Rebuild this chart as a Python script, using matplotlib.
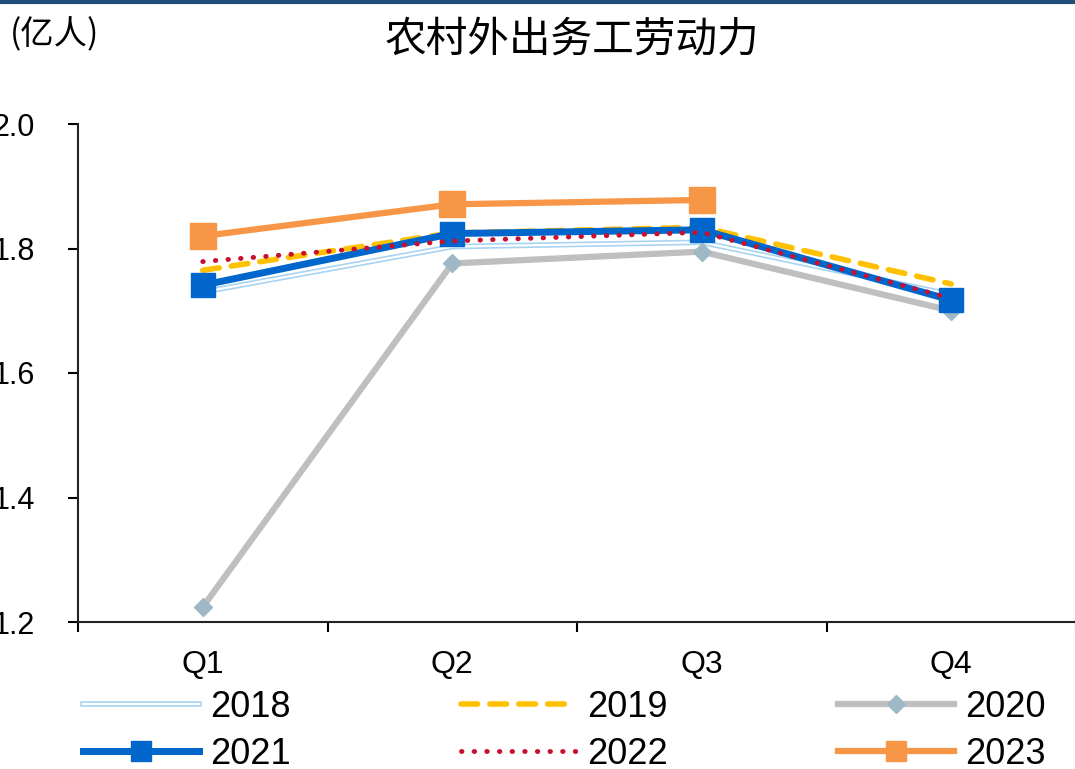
import numpy as np
import matplotlib
matplotlib.use("Agg")
import matplotlib.pyplot as plt
import matplotlib.patheffects as pe
from matplotlib.lines import Line2D

# ── Data (亿人) ─────────────────────────────────────────────
quarters = ["Q1", "Q2", "Q3", "Q4"]
y2018 = [1.730, 1.803, 1.810, 1.726]
y2019 = [1.765, 1.825, 1.834, 1.743]
y2020 = [1.224, 1.776, 1.795, 1.700]
y2021 = [1.741, 1.824, 1.830, 1.717]
y2022 = [1.779, 1.812, 1.826, 1.720]
y2023 = [1.820, 1.871, 1.878]

y_ticks = [1.2, 1.4, 1.6, 1.8, 2.0]

plt.rcParams["font.family"] = ["Liberation Sans", "Noto Sans CJK SC", "DejaVu Sans"]

fig = plt.figure(figsize=(10.75, 7.69), dpi=100)
ax = fig.add_axes([78 / 1075, 1 - 622 / 769, 998 / 1075, 498 / 769])

x = np.arange(len(quarters))

# 2018: light-blue double line
ax.plot(x, y2018, color="white", linewidth=1.6, zorder=2,
        path_effects=[pe.Stroke(linewidth=4, foreground="#a8d4f2"), pe.Normal()])
ax.plot(x, y2019, color="#ffc000", linewidth=4, linestyle=(0, (3, 2.2)),
        dash_capstyle="round", zorder=3)
ax.plot(x, y2020, color="#bfbfbf", linewidth=4.5, marker="D", markersize=9,
        markerfacecolor="#9fb8c6", markeredgecolor="#9fb8c6", zorder=2)
ax.plot(x, y2021, color="#0066cc", linewidth=5, marker="s", markersize=17,
        markerfacecolor="#0066cc", markeredgecolor="#0066cc", zorder=4)
ax.plot(x, y2022, color="#c8102e", linewidth=3.5, linestyle=(0, (0.1, 2.5)),
        dash_capstyle="round", zorder=5)
ax.plot(x[:len(y2023)], y2023, color="#f79646", linewidth=4.5, marker="s",
        markersize=19, markerfacecolor="#f79646", markeredgecolor="#f79646", zorder=6)

# axes
ax.set_xlim(-0.5, 3.5)
ax.set_ylim(1.2, 2.0)
ax.set_yticks(y_ticks)
ax.set_yticklabels([f"{v:.1f}" for v in y_ticks], fontsize=22)
ax.set_xticks(x)
ax.set_xticklabels(quarters, fontsize=23)
ax.set_xticks(np.arange(-0.5, 4.0, 1.0), minor=True)
ax.tick_params(axis="x", which="major", length=0, pad=20)
ax.tick_params(axis="x", which="minor", length=7, width=1.5, direction="out")
ax.tick_params(axis="y", length=7, width=1.5, direction="out", pad=24)
for s in ["top", "right"]:
    ax.spines[s].set_visible(False)
ax.spines["left"].set_linewidth(1.5)
ax.spines["bottom"].set_linewidth(1.5)
ax.spines["left"].set_color("#222222")
ax.spines["bottom"].set_color("#222222")

# legend
h18 = Line2D([], [], color="white", linewidth=1.6,
             path_effects=[pe.Stroke(linewidth=4, foreground="#a8d4f2"), pe.Normal()])
h19 = Line2D([], [], color="#ffc000", linewidth=4, linestyle=(0, (3, 2.2)),
             dash_capstyle="round")
h20 = Line2D([], [], color="#bfbfbf", linewidth=4.5, marker="D", markersize=9,
             markerfacecolor="#9fb8c6", markeredgecolor="#9fb8c6")
h21 = Line2D([], [], color="#0066cc", linewidth=5, marker="s", markersize=15)
h22 = Line2D([], [], color="#c8102e", linewidth=3.5, linestyle=(0, (0.1, 2.5)),
             dash_capstyle="round")
h23 = Line2D([], [], color="#f79646", linewidth=4.5, marker="s", markersize=15)
fig.legend([h18, h21, h19, h22, h20, h23],
           ["2018", "2021", "2019", "2022", "2020", "2023"],
           ncol=3, loc="center left", bbox_to_anchor=(0.064, 0.050),
           frameon=False, fontsize=26, handlelength=3.2, handletextpad=0.3,
           columnspacing=4.72, labelspacing=0.33, borderaxespad=0)

# titles
fig.text(572 / 1075, 1 - 40 / 769, "农村外出务工劳动力", ha="center", va="center",
         fontsize=30, family=["Noto Sans CJK SC", "DejaVu Sans"])
fig.text(10 / 1075, 1 - 35 / 769, "(亿人)", ha="left", va="center",
         fontsize=24, family=["Noto Sans CJK SC", "DejaVu Sans"])

# top border
fig.add_artist(Line2D([0, 1], [0.998, 0.998], color="#1f4e79", linewidth=3,
                      transform=fig.transFigure))

fig.savefig("out.png", dpi=100)
